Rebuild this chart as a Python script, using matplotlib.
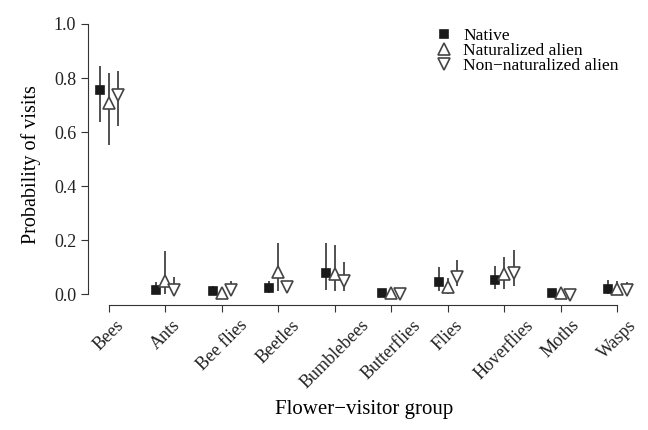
import numpy as np
import matplotlib
matplotlib.use("Agg")
import matplotlib.pyplot as plt

plt.rcParams['font.family'] = ['Liberation Serif', 'DejaVu Serif']

groups = ["Bees", "Ants", "Bee flies", "Beetles", "Bumblebees",
          "Butterflies", "Flies", "Hoverflies", "Moths", "Wasps"]

native = [0.755, 0.015, 0.010, 0.022, 0.079, 0.003, 0.046, 0.052, 0.003, 0.021]
native_lo = [0.638, 0.000, 0.000, 0.005, 0.017, 0.000, 0.012, 0.020, 0.000, 0.000]
native_hi = [0.845, 0.045, 0.030, 0.050, 0.190, 0.010, 0.100, 0.105, 0.010, 0.054]

natural = [0.706, 0.048, 0.005, 0.083, 0.075, 0.005, 0.027, 0.073, 0.003, 0.020]
natural_lo = [0.552, 0.000, 0.000, 0.010, 0.010, 0.000, 0.000, 0.020, 0.000, 0.000]
natural_hi = [0.818, 0.160, 0.020, 0.188, 0.181, 0.015, 0.060, 0.138, 0.010, 0.050]

nonnat = [0.737, 0.015, 0.015, 0.025, 0.048, 0.000, 0.064, 0.079, -0.003, 0.015]
nonnat_lo = [0.623, 0.000, 0.000, 0.005, 0.010, 0.000, 0.030, 0.030, 0.000, 0.000]
nonnat_hi = [0.827, 0.063, 0.049, 0.050, 0.120, 0.008, 0.128, 0.163, 0.008, 0.045]

series = [
    ("Native", native, native_lo, native_hi, -0.16, "s", "#1a1a1a", "#1a1a1a", 6),
    ("Naturalized alien", natural, natural_lo, natural_hi, 0.0, "^", "white", "#444444", 8),
    ("Non\u2212naturalized alien", nonnat, nonnat_lo, nonnat_hi, 0.16, "v", "white", "#444444", 8),
]

fig = plt.figure(figsize=(6.48, 4.30), dpi=100)
ax = fig.add_axes([0.1358, 0.2907, 0.852, 0.6535])

x = np.arange(len(groups))
for label, vals, lo, hi, off, mk, fc, ec, ms in series:
    vals = np.array(vals)
    yerr = [vals - np.array(lo), np.array(hi) - vals]
    yerr = np.clip(yerr, 0, None)
    ax.errorbar(x + off, vals, yerr=yerr, fmt="none", ecolor="#222222",
                elinewidth=1.1, capsize=0, zorder=2)
    ax.plot(x + off, vals, linestyle="none", marker=mk, markersize=ms,
            markerfacecolor=fc, markeredgecolor=ec, markeredgewidth=1.2,
            label=label, zorder=3)

ax.set_xlim(-0.37, 9.4)
ax.set_ylim(-0.04, 1.0)
ax.set_xticks(x)
ax.set_xticklabels(groups, rotation=45, ha="center", fontsize=13)
ax.set_yticks([0.0, 0.2, 0.4, 0.6, 0.8, 1.0])
ax.set_yticklabels(["0.0", "0.2", "0.4", "0.6", "0.8", "1.0"], fontsize=13)

for s in ["top", "right"]:
    ax.spines[s].set_visible(False)
ax.spines["left"].set_bounds(0, 1)
ax.spines["bottom"].set_bounds(0, 9)
ax.spines["left"].set_color("#333333")
ax.spines["bottom"].set_color("#333333")
ax.tick_params(direction="out", length=5, color="#333333", labelcolor="#222222")

ax.set_ylabel("Probability of visits", fontsize=14.5, labelpad=9)
ax.set_xlabel("Flower\u2212visitor group", fontsize=15, labelpad=6)

leg = ax.legend(loc="upper left", bbox_to_anchor=(0.672, 0.935),
                bbox_transform=fig.transFigure, frameon=False, borderpad=0,
                borderaxespad=0, fontsize=12.5, handlelength=1.0,
                handletextpad=0.6, labelspacing=-0.08)

fig.savefig("out.png", dpi=100)
